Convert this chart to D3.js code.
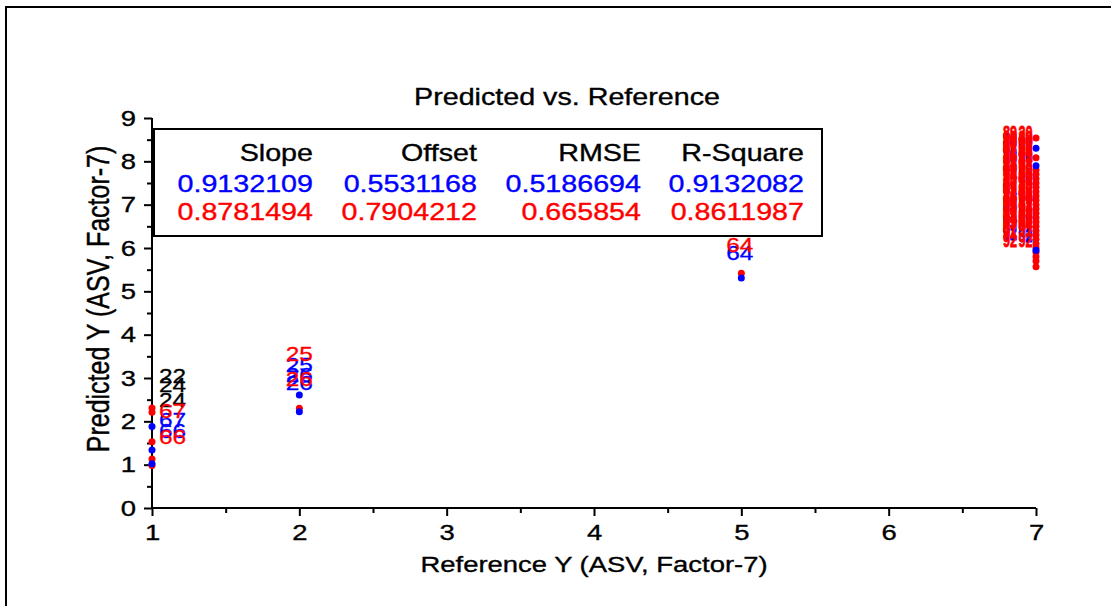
<!DOCTYPE html>
<html>
<head>
<meta charset="utf-8">
<script src="https://cdn.jsdelivr.net/npm/d3@7"></script>
<style>
  body { margin: 0; background: #fff; }
  text { font-family: "Liberation Sans", Arial, sans-serif; }
</style>
</head>
<body>
<div id="chart"></div>
<script>
// ---- data ----
const xTicks = [1, 2, 3, 4, 5, 6, 7];
const xMinor = [1.5, 2.5, 3.5, 4.5, 5.5, 6.5];
const yTicks = [0, 1, 2, 3, 4, 5, 6, 7, 8, 9];
const yMinor = [0.5, 1.5, 2.5, 3.5, 4.5, 5.5, 6.5, 7.5, 8.5];

const statHeaders = ['Slope', 'Offset', 'RMSE', 'R-Square'];
const statsBlue = ['0.9132109', '0.5531168', '0.5186694', '0.9132082'];
const statsRed  = ['0.8781494', '0.7904212', '0.665854', '0.8611987'];

// dots [reference, predicted]
const redDots = [
  [1, 2.31], [1, 2.21], [1, 1.53], [1, 1.13], [1, 0.98],
  [2, 2.30], [5, 5.42],
  [7, 8.54], [7, 8.08], [7, 7.80], [7, 7.70], [7, 7.60], [7, 7.50], [7, 7.40],
  [7, 7.30], [7, 7.20], [7, 7.10], [7, 7.00], [7, 6.90], [7, 6.80], [7, 6.70],
  [7, 6.60], [7, 6.50], [7, 6.40], [7, 6.30], [7, 6.20], [7, 6.10], [7, 6.00],
  [7, 5.90], [7, 5.80], [7, 5.70], [7, 5.57]
];
const blueDots = [
  [1, 1.88], [1, 1.34], [1, 1.02],
  [2, 2.61], [2, 2.22], [5, 5.31],
  [7, 8.30], [7, 7.90], [7, 5.95]
];

// sample labels [x, y, text]
const blackLabels = [[1.14, 3.05, '22'], [1.14, 2.85, '24'], [1.14, 2.50, '24']];
const blueLabels = [
  [1.14, 2.03, '67'], [1.14, 1.78, '66'],
  [2.0, 3.30, '25'], [2.0, 3.08, '26'], [2.0, 2.90, '26'],
  [4.99, 5.90, '64']
];
const redLabels = [
  [1.14, 2.24, '67'], [1.14, 1.65, '66'],
  [2.0, 3.55, '25'], [2.0, 2.98, '26'],
  [4.99, 6.07, '64']
];
// crowded column at Reference = 7 (drawn narrow)
const blueCluster = [
  [6.823, 8.50, '88'], [6.823, 8.20, '90'], [6.823, 7.90, '87'], [6.823, 7.40, '91'],
  [6.823, 7.00, '85'], [6.823, 6.60, '93'], [6.823, 6.35, '92'],
  [6.929, 8.45, '89'], [6.929, 8.10, '90'], [6.929, 7.70, '86'], [6.929, 7.20, '94'],
  [6.929, 6.80, '88'], [6.929, 6.45, '91'], [6.929, 6.30, '92']
];
const redCluster = [
  [6.823, 8.65, '89'], [6.823, 8.55, '90'], [6.823, 8.45, '88'], [6.823, 8.35, '87'],
  [6.823, 8.25, '91'], [6.823, 8.15, '86'], [6.823, 8.00, '93'], [6.823, 7.90, '85'],
  [6.823, 7.80, '90'], [6.823, 7.70, '94'], [6.823, 7.60, '88'], [6.823, 7.50, '87'],
  [6.823, 7.40, '89'], [6.823, 7.30, '91'], [6.823, 7.20, '86'], [6.823, 7.10, '90'],
  [6.823, 7.00, '93'], [6.823, 6.90, '88'], [6.823, 6.80, '85'], [6.823, 6.70, '94'],
  [6.823, 6.60, '89'], [6.823, 6.50, '87'], [6.823, 6.40, '91'], [6.823, 6.20, '92'],
  [6.929, 8.65, '20'], [6.929, 8.55, '89'], [6.929, 8.45, '90'], [6.929, 8.35, '88'],
  [6.929, 8.25, '86'], [6.929, 8.15, '91'], [6.929, 8.05, '87'], [6.929, 7.95, '93'],
  [6.929, 7.85, '90'], [6.929, 7.75, '85'], [6.929, 7.65, '89'], [6.929, 7.55, '94'],
  [6.929, 7.45, '88'], [6.929, 7.35, '86'], [6.929, 7.25, '91'], [6.929, 7.15, '90'],
  [6.929, 7.05, '87'], [6.929, 6.95, '93'], [6.929, 6.85, '89'], [6.929, 6.75, '85'],
  [6.929, 6.65, '88'], [6.929, 6.55, '94'], [6.929, 6.45, '91'], [6.929, 6.20, '92']
];

const width = 1111;
const height = 606;
const BLUE = '#0000ff';
const RED = '#ff0000';
const SX = 1.22;   // the original rendering is stretched sideways

const svg = d3.select('#chart')
  .append('svg')
  .attr('width', width)
  .attr('height', height);

// outer frame (top + left edges only show)
svg.append('path')
  .attr('d', 'M6,606 V7 H1111')
  .attr('fill', 'none')
  .attr('stroke', '#000')
  .attr('stroke-width', 2);

const x = d3.scaleLinear().domain([1, 7]).range([152, 1036]);
const y = d3.scaleLinear().domain([0, 9]).range([508, 118]);

// place a stretched text at px,py
function wideText(parent, px, py, str, size, anchor, color) {
  const c = color || '#000';
  return parent.append('text')
    .attr('transform', `translate(${px},${py}) scale(${SX},1)`)
    .attr('text-anchor', anchor || 'middle')
    .style('font-size', size + 'px')
    .style('fill', c)
    .style('stroke', c)
    .style('stroke-width', 0.35)
    .text(str);
}

// title
wideText(svg, 567, 105, 'Predicted vs. Reference', 23.5);

// axes
const gx = svg.append('g').attr('transform', 'translate(0,508)');
gx.call(d3.axisBottom(x).tickValues(xTicks).tickSize(8).tickPadding(8).tickFormat(d3.format('d')));
gx.append('g').call(d3.axisBottom(x).tickValues(xMinor).tickSize(5).tickFormat(''));

const gy = svg.append('g').attr('transform', 'translate(152,0)');
gy.call(d3.axisLeft(y).tickValues(yTicks).tickSize(8).tickPadding(8).tickFormat(d3.format('d')));
gy.append('g').call(d3.axisLeft(y).tickValues(yMinor).tickSize(5).tickFormat(''));

svg.selectAll('.domain').attr('stroke', '#000').attr('stroke-width', 2);
svg.selectAll('.tick line').attr('stroke', '#000').attr('stroke-width', 2);
svg.selectAll('.tick text')
  .style('font-size', '22.5px')
  .style('font-family', '"Liberation Sans", Arial, sans-serif')
  .attr('fill', '#000')
  .style('stroke', '#000')
  .style('stroke-width', 0.35)
  .each(function() {
    const t = d3.select(this);
    const tx = +t.attr('x') || 0;
    t.attr('x', tx / SX).attr('transform', `scale(${SX},1)`);
  });
gx.selectAll('.domain').attr('d', `M${x(1)},0H${x(7)}`);
gy.selectAll('.domain').attr('d', `M0,${y(0)}V${y(9)}`);

// axis titles
wideText(svg, 594, 572, 'Reference Y (ASV, Factor-7)', 22.5);

svg.append('text')
  .attr('transform', `translate(109,299) scale(${SX},1) rotate(-90)`)
  .attr('text-anchor', 'middle')
  .style('font-size', '25px')
  .style('stroke', '#000')
  .style('stroke-width', 0.35)
  .text('Predicted Y (ASV, Factor-7)');

// dots
const dots = svg.append('g');
dots.selectAll('.red-dot')
  .data(redDots)
  .enter().append('circle')
  .attr('class', 'red-dot')
  .attr('cx', d => x(d[0]))
  .attr('cy', d => y(d[1]))
  .attr('r', 3.5)
  .style('fill', RED);
dots.selectAll('.blue-dot')
  .data(blueDots)
  .enter().append('circle')
  .attr('class', 'blue-dot')
  .attr('cx', d => x(d[0]))
  .attr('cy', d => y(d[1]))
  .attr('r', 3.5)
  .style('fill', BLUE);

// sample labels
function drawLabels(data, color) {
  svg.append('g').selectAll('text')
    .data(data)
    .enter().append('text')
    .attr('transform', d => `translate(${x(d[0])},${y(d[1])}) scale(${SX},1)`)
    .attr('text-anchor', 'middle')
    .attr('dy', '0.36em')
    .style('font-size', '20px')
    .style('fill', color)
    .style('stroke', color)
    .style('stroke-width', 0.3)
    .text(d => d[2]);
}
function drawCluster(data, color) {
  svg.append('g').selectAll('text')
    .data(data)
    .enter().append('text')
    .attr('x', d => x(d[0]))
    .attr('y', d => y(d[1]))
    .attr('text-anchor', 'middle')
    .attr('dy', '0.36em')
    .attr('textLength', 14)
    .attr('lengthAdjust', 'spacingAndGlyphs')
    .style('font-size', '20px')
    .style('font-weight', 'bold')
    .style('fill', color)
    .style('stroke', color)
    .style('stroke-width', 0.8)
    .text(d => d[2]);
}
drawLabels(blackLabels, '#000');
drawLabels(blueLabels, BLUE);
drawLabels(redLabels, RED);
drawCluster(blueCluster, BLUE);
drawCluster(redCluster, RED);

// statistics box
const box = svg.append('g');
box.append('rect')
  .attr('x', 154).attr('y', 129)
  .attr('width', 668).attr('height', 107)
  .attr('fill', '#fff')
  .attr('stroke', '#000')
  .attr('stroke-width', 2);

const colRight = [313, 477, 641, 804];
const rows = [
  { vals: statHeaders, color: '#000', y: 161 },
  { vals: statsBlue, color: BLUE, y: 192 },
  { vals: statsRed, color: RED, y: 220 }
];
rows.forEach(r => {
  r.vals.forEach((v, i) => {
    wideText(box, colRight[i], r.y, v, 23.5, 'end', r.color);
  });
});
</script>
</body>
</html>
